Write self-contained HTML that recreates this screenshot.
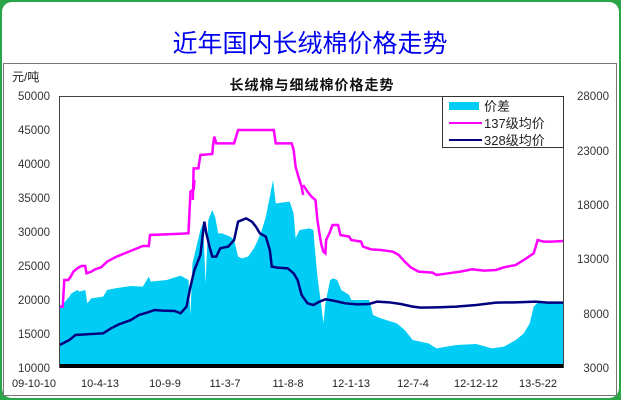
<!DOCTYPE html>
<html><head><meta charset="utf-8"><style>
html,body{margin:0;padding:0;width:621px;height:400px;overflow:hidden;background:#1f9a3c}
svg{display:block}
text{font-family:"Liberation Sans","Noto Sans CJK SC",sans-serif}
</style></head><body>
<svg width="621" height="400" viewBox="0 0 621 400">
<rect x="0" y="0" width="621" height="400" fill="#2aa548"/>
<rect x="2" y="2" width="617" height="396" rx="10" fill="#fff"/>
<text x="310" y="52" text-anchor="middle" font-size="25" fill="#0000ee" font-family="'Noto Serif CJK SC',serif">近年国内长绒棉价格走势</text>
<rect x="3.5" y="63.5" width="613" height="332" fill="#fff" stroke="#777" stroke-width="1"/>
<text x="12" y="81" font-size="12" fill="#222">元/吨</text>
<text x="312" y="90" text-anchor="middle" font-size="14" font-weight="bold" fill="#111" letter-spacing="1">长绒棉与细绒棉价格走势</text>

<g transform="translate(0,180) scale(0.3968,0.3333)">
<polygon fill="#00ccf5" points="150,555 150,380 160,370 175,350 180,340 195,330 200,335 215,330 220,370 230,355 260,350 270,330 290,325 330,318 360,320 375,290 380,305 420,300 455,287 475,300 480,405 485,250 495,200 505,150 512,130 518,310 525,120 535,90 542,110 550,160 560,160 580,170 590,180 600,230 610,235 625,230 640,205 650,180 660,150 670,110 680,50 688,0 695,70 730,65 740,100 745,175 755,150 780,145 790,150 793,200 800,290 810,380 815,430 820,370 832,300 840,295 850,300 860,330 880,345 885,360 930,360 935,380 940,405 960,415 1000,430 1020,450 1040,480 1080,490 1100,505 1150,495 1200,492 1240,505 1270,500 1300,480 1320,460 1335,430 1345,380 1360,362 1380,370 1400,365 1420,370 1420,555"/>
<polyline fill="none" stroke="#ff00ff" stroke-width="2.5" vector-effect="non-scaling-stroke" points="150,380 158,380 162,300 172,300 178,290 185,275 195,265 205,258 215,258 218,280 230,275 240,268 255,262 270,245 290,232 310,222 335,210 360,198 375,198 378,165 440,162 475,160 480,35 488,28 490,0"/>
<polyline fill="none" stroke="#ff00ff" stroke-width="2.5" vector-effect="non-scaling-stroke" points="764,15 775,35 785,50 795,60 800,120 805,160 810,195 815,215 820,220 822,180 830,160 838,135 852,135 858,165 880,170 885,180 910,185 915,200 935,208 960,210 990,215 1005,225 1020,245 1035,262 1055,275 1090,278 1100,285 1130,280 1160,275 1190,268 1220,272 1250,270 1270,262 1300,255 1320,240 1345,220 1355,180 1370,185 1390,185 1420,183"/>
<polyline fill="none" stroke="#000080" stroke-width="2.5" vector-effect="non-scaling-stroke" points="150,495 175,480 190,465 260,460 280,445 300,433 330,420 350,405 370,398 390,390 410,392 440,393 455,400 470,380 480,320 490,270 505,225 515,125 520,160 528,200 535,230 545,230 555,205 575,200 590,180 600,125 620,115 635,125 645,140 655,160 670,170 680,210 685,260 700,263 725,265 740,280 750,300 760,345 775,370 790,375 805,365 820,358 840,362 870,370 900,373 930,372 950,365 980,367 1010,372 1040,380 1060,383 1100,382 1150,380 1200,375 1250,368 1300,367 1350,365 1380,368 1420,368"/>
</g>
<g transform="translate(0,60) scale(0.3968,0.3333)">
<polyline fill="none" stroke="#ff00ff" stroke-width="2.5" vector-effect="non-scaling-stroke" points="486,420 488,325 500,325 505,285 535,282 537,255 540,230 545,250 590,250 595,230 600,210 690,210 695,250 735,250 740,270 745,320 752,350 760,380 764,405"/>
</g>
<rect x="59" y="364" width="504" height="4" fill="#000"/>
<line x1="59.5" y1="96" x2="59.5" y2="368" stroke="#444"/>
<line x1="563.5" y1="96" x2="563.5" y2="368" stroke="#444"/>
<line x1="59.5" y1="96.5" x2="563.5" y2="96.5" stroke="#444"/>
<g font-size="11.5" fill="#333" text-anchor="end">
<text x="50" y="100">50000</text><text x="50" y="134">45000</text><text x="50" y="168">40000</text><text x="50" y="202">35000</text><text x="50" y="236">30000</text><text x="50" y="270">25000</text><text x="50" y="304">20000</text><text x="50" y="338">15000</text><text x="50" y="372">10000</text>
</g>
<g font-size="11.5" fill="#333" text-anchor="end">
<text x="609" y="100">28000</text><text x="609" y="155">23000</text><text x="609" y="209">18000</text><text x="609" y="263">13000</text><text x="609" y="318">8000</text><text x="609" y="372">3000</text>
</g>
<g font-size="11" fill="#222" text-anchor="middle" font-family="'Liberation Mono',monospace">
<text x="34" y="387">09-10-10</text><text x="100" y="387">10-4-13</text><text x="165" y="387">10-9-9</text><text x="225" y="387">11-3-7</text><text x="288" y="387">11-8-8</text><text x="351" y="387">12-1-13</text><text x="413" y="387">12-7-4</text><text x="476" y="387">12-12-12</text><text x="538" y="387">13-5-22</text>
</g>
<rect x="442.5" y="96.5" width="121" height="51" fill="#fff" stroke="#333"/>
<rect x="449" y="102" width="30" height="8" fill="#00ccf5"/>
<line x1="449" y1="123" x2="482" y2="123" stroke="#ff00ff" stroke-width="2"/>
<line x1="449" y1="140" x2="482" y2="140" stroke="#000080" stroke-width="2"/>
<g font-size="13" fill="#222"><text x="484" y="111">价差</text><text x="484" y="128">137级均价</text><text x="484" y="145">328级均价</text></g>
</svg>
</body></html>
